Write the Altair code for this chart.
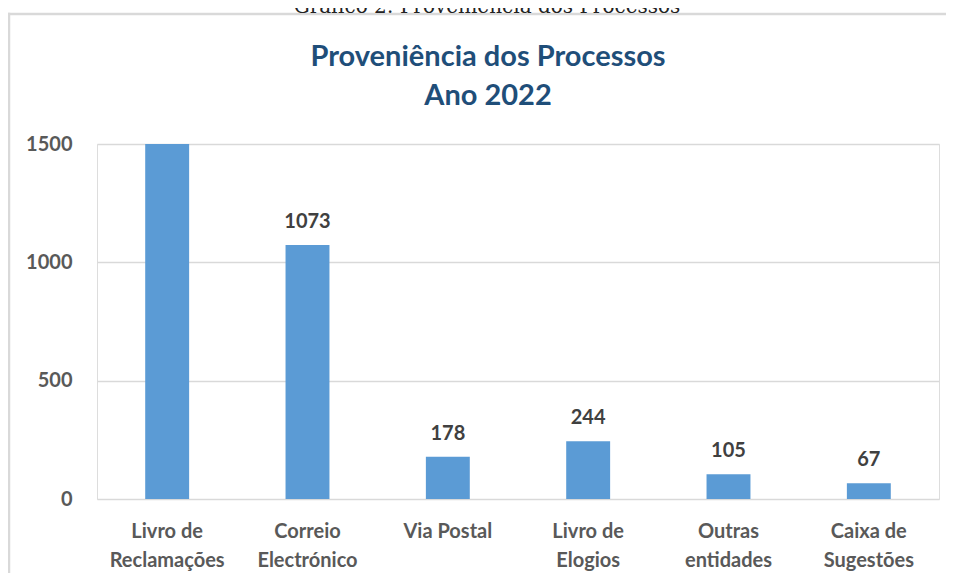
import altair as alt
import pandas as pd

categories = ["Livro de\nReclamações", "Correio\nElectrónico", "Via Postal",
              "Livro de\nElogios", "Outras\nentidades", "Caixa de\nSugestões"]
values = [1500, 1073, 178, 244, 105, 67]
labels = ["", "1073", "178", "244", "105", "67"]
y_ticks = [0, 500, 1000, 1500]

df = pd.DataFrame({"cat": categories, "val": values, "lab": labels})
one = pd.DataFrame({"k": [0]})

FONT = "Lato"
W, H = 842, 355

x = alt.X("cat:N", sort=categories, title=None,
          scale=alt.Scale(paddingInner=0.687, paddingOuter=0.3435),
          axis=alt.Axis(labelExpr="split(datum.label, '\\n')", labelAngle=0,
                        labelFont=FONT, labelFontSize=20, labelFontWeight="bold",
                        labelColor="#595959", labelLineHeight=29, labelPadding=22,
                        domain=False, ticks=False, grid=False))
y = alt.Y("val:Q", title=None,
          scale=alt.Scale(domain=[0, 1500], nice=False),
          axis=alt.Axis(values=y_ticks, format="d", labelFont=FONT, labelFontSize=20,
                        labelFontWeight="bold", labelColor="#595959",
                        labelPadding=25, domain=False, ticks=False,
                        gridColor="#D9D9D9", gridWidth=1.5))

bars = alt.Chart(df).mark_bar(color="#5B9BD5", clip=True).encode(x=x, y=y)
text = alt.Chart(df).mark_text(font=FONT, fontSize=20, fontWeight="bold",
                               color="#404040", baseline="alphabetic", dy=-17).encode(
    x=alt.X("cat:N", sort=categories), y=alt.Y("val:Q"), text="lab:N")

frame_top = alt.Chart(one).mark_rect(color="#D9D9D9").encode(
    x=alt.value(-89.25), x2=alt.value(849), y=alt.value(-131.25), y2=alt.value(-128.75))
frame_left = alt.Chart(one).mark_rect(color="#D9D9D9").encode(
    x=alt.value(-89.25), x2=alt.value(-86.75), y=alt.value(-131.25), y2=alt.value(430))

caption = alt.Chart(one).mark_text(font="DejaVu Serif", fontSize=20, color="#222222",
                                   baseline="alphabetic").encode(
    x=alt.value(390), y=alt.value(-131), text=alt.value("Gráfico 2: Proveniência dos Processos"))
t1 = alt.Chart(one).mark_text(font=FONT, fontSize=29, fontWeight="bold", color="#1F4E79",
                              baseline="alphabetic").encode(
    x=alt.value(391), y=alt.value(-78), text=alt.value("Proveniência dos Processos"))
t2 = alt.Chart(one).mark_text(font=FONT, fontSize=29, fontWeight="bold", color="#1F4E79",
                              baseline="alphabetic").encode(
    x=alt.value(391), y=alt.value(-39), text=alt.value("Ano 2022"))

chart = alt.layer(frame_top, frame_left, bars, text, caption, t1, t2).properties(
    width=W, height=H,
    autosize=alt.AutoSizeParams(type="none"),
    padding={"left": 89, "top": 136, "right": 7, "bottom": 74},
).configure_view(stroke=None).configure(background="white")

chart.save("out.html", embed_options={"renderer": "svg", "actions": False})
